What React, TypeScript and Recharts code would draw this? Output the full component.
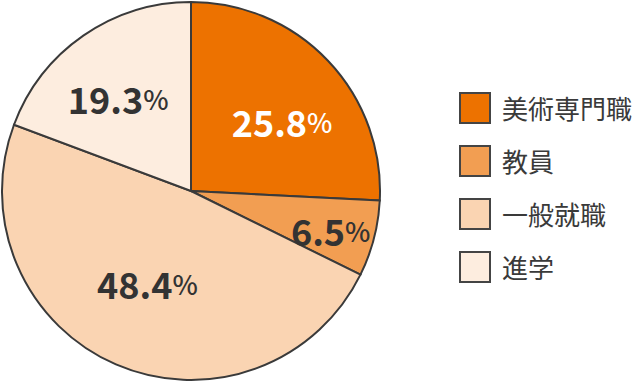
import React from "react";
import { PieChart, Pie, Cell, Legend } from "recharts";

const categories = ["美術専門職", "教員", "一般就職", "進学"];
const shares = [25.8, 6.5, 48.4, 19.3];
const sliceColors = ["#ED7200", "#F29E52", "#FAD4B2", "#FDEDDF"];
const labelColors = ["#FFFFFF", "#333333", "#333333", "#333333"];
// label placement: fraction of the radius and angular nudge (degrees)
const labelRadiusFrac = [0.6, 0.77, 0.55, 0.615];
const labelAngleNudge = [-7, -1.7, -1.4, 4];

const data = categories.map((name, i) => ({ name, value: shares[i] }));

const FONT = "'Noto Sans CJK JP', 'Noto Sans', sans-serif";
const RAD = Math.PI / 180;

const renderLabel = (props: any) => {
  const { cx, cy, midAngle, outerRadius, index, value } = props;
  const r = outerRadius * labelRadiusFrac[index];
  const a = midAngle + labelAngleNudge[index];
  const x = cx + r * Math.cos(-a * RAD);
  const y = cy + r * Math.sin(-a * RAD) - 2;
  return (
    <text
      x={x}
      y={y}
      textAnchor="middle"
      dominantBaseline="central"
      fill={labelColors[index]}
      style={{ fontFamily: FONT }}
    >
      <tspan fontSize={36} fontWeight={700}>
        {value.toFixed(1)}
      </tspan>
      <tspan fontSize={27} fontWeight={500}>
        %
      </tspan>
    </text>
  );
};

const LegendContent = () => (
  <div style={{ fontFamily: FONT }}>
    {categories.map((c, i) => (
      <div
        key={c}
        style={{ display: "flex", alignItems: "center", height: 53 }}
      >
        <div
          style={{
            width: 28,
            height: 28,
            background: sliceColors[i],
            border: "2px solid #444",
            boxSizing: "content-box",
          }}
        />
        <span
          style={{
            marginLeft: 11,
            fontSize: 26,
            color: "#3a3a3a",
            lineHeight: "30px",
            whiteSpace: "nowrap",
          }}
        >
          {c}
        </span>
      </div>
    ))}
  </div>
);

export default function App() {
  return (
    <div style={{ position: "absolute", left: 0, top: 0, background: "#fff" }}>
      <PieChart
        width={642}
        height={382}
        margin={{ top: 0, right: 0, bottom: 0, left: 0 }}
      >
        <Pie
          data={data}
          dataKey="value"
          nameKey="name"
          cx={191}
          cy={191}
          outerRadius={189}
          startAngle={90}
          endAngle={-270}
          stroke="#3a3a3a"
          strokeWidth={2}
          label={renderLabel}
          labelLine={false}
          isAnimationActive={false}
        >
          {data.map((d, i) => (
            <Cell key={d.name} fill={sliceColors[i]} />
          ))}
        </Pie>
        <Legend
          content={<LegendContent />}
          wrapperStyle={{ position: "absolute", left: 459, top: 81, width: 183 }}
        />
      </PieChart>
    </div>
  );
}
